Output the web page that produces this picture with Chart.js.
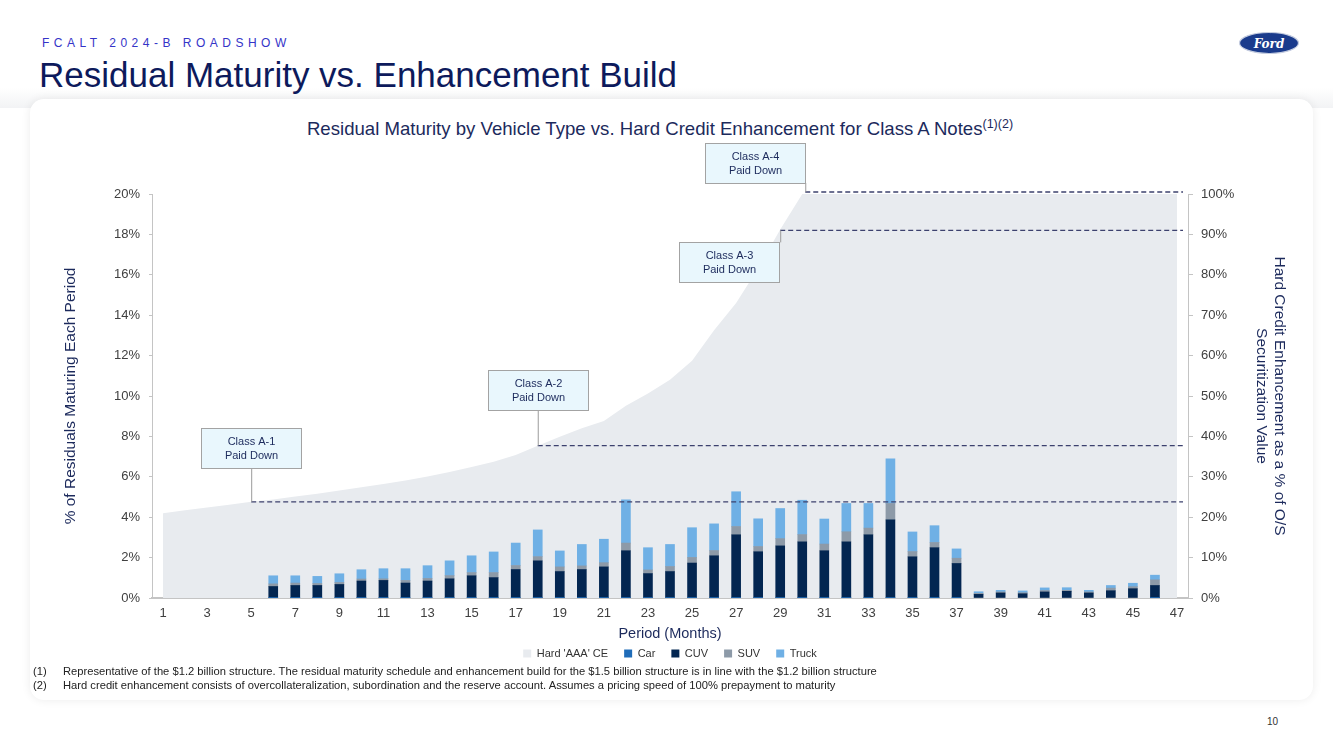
<!DOCTYPE html>
<html>
<head>
<meta charset="utf-8">
<script src="https://cdn.jsdelivr.net/npm/chart.js@4.4.1/dist/chart.umd.min.js"></script>
<style>
  html, body { margin:0; padding:0; width:1333px; height:749px; overflow:hidden; background:#ffffff; font-family:"Liberation Sans", Arial, sans-serif; }
  #band { position:absolute; left:0; top:88px; width:1333px; height:20px; background:linear-gradient(#ffffff, #f2f3f5); }
  #card { position:absolute; left:30px; top:99px; width:1283px; height:601px; background:#fff; border-radius:14px; box-shadow:0 0 10px rgba(0,0,0,0.08); }
  #kicker { position:absolute; left:42px; top:36px; font-size:12px; letter-spacing:4.5px; color:#3434c8; white-space:nowrap; }
  #title { position:absolute; left:39px; top:55px; font-size:35px; color:#0d1a5c; white-space:nowrap; }
  #ctitle { position:absolute; left:0; width:1320px; top:118px; text-align:center; font-size:18.6px; color:#1c2a5c; white-space:nowrap; }
  #ctitle sup { font-size:12.5px; vertical-align:7px; line-height:0; }
  #chartWrap { position:absolute; left:0; top:0; width:1333px; height:680px; }
  #notes { position:absolute; left:33px; top:664px; font-size:11.2px; color:#222; line-height:14px; white-space:nowrap; }
  #notes span.n { display:inline-block; width:30px; }
  #page { position:absolute; left:1267px; top:716px; font-size:10px; color:#333; }
  #logo { position:absolute; left:1238px; top:31px; }
</style>
</head>
<body>
<div id="band"></div>
<div id="card"></div>
<div id="kicker">FCALT 2024-B ROADSHOW</div>
<div id="title">Residual Maturity vs. Enhancement Build</div>
<svg id="logo" width="62" height="24" viewBox="0 0 62 24">
  <ellipse cx="31" cy="12" rx="29.5" ry="10.5" fill="#1a3b8c" stroke="#c5cde0" stroke-width="1.2"/>
  <text x="31" y="16.5" text-anchor="middle" font-family="DejaVu Serif" font-style="italic" font-weight="bold" font-size="12" fill="#ffffff">Ford</text>
</svg>
<div id="ctitle">Residual Maturity by Vehicle Type vs. Hard Credit Enhancement for Class A Notes<sup>(1)(2)</sup></div>
<div id="chartWrap"><canvas id="c" width="1333" height="680"></canvas></div>
<div id="notes">
  <div><span class="n">(1)</span>Representative of the $1.2 billion structure. The residual maturity schedule and enhancement build for the $1.5 billion structure is in line with the $1.2 billion structure</div>
  <div><span class="n">(2)</span>Hard credit enhancement consists of overcollateralization, subordination and the reserve account. Assumes a pricing speed of 100% prepayment to maturity</div>
</div>
<div id="page">10</div>

<script>
// ---------------- DATA ----------------
const periods = ['1','2','3','4','5','6','7','8','9','10','11','12','13','14','15','16','17','18','19','20',
  '21','22','23','24','25','26','27','28','29','30','31','32','33','34','35','36','37','38','39','40',
  '41','42','43','44','45','46','47'];

// Hard 'AAA' CE (% of O/S securitization value, right axis)
const hardCE = [21.0,21.7,22.4,23.1,23.8,24.4,25.1,25.8,26.6,27.4,28.2,29.1,30.1,31.2,32.4,33.7,35.4,37.7,39.9,42.0,
  43.8,47.6,50.6,54.0,58.7,66.3,73.0,81.6,91.2,100,100,100,100,100,100,100,100,100,100,100,
  100,100,100,100,100,100,100];

// Residuals maturing each period (% , left axis)
const car = [null,null,null,null,null,0.01,0.01,0.01,0.01,0.01,0.01,0.01,0.01,0.01,0.01,0.01,0.01,0.01,0.01,0.01,
  0.01,0.01,0.01,0.01,0.01,0.01,0.01,0.01,0.01,0.01,0.01,0.01,0.01,0.01,0.01,0.01,0.01,null,null,null,
  null,null,null,null,null,0.01,null];
const cuv = [null,null,null,null,null,0.56,0.61,0.61,0.66,0.83,0.86,0.73,0.83,0.94,1.09,1.00,1.40,1.83,1.30,1.40,
  1.53,2.33,1.20,1.30,1.72,2.08,3.12,2.28,2.57,2.77,2.33,2.77,3.12,3.86,2.03,2.48,1.70,0.18,0.25,0.21,
  0.30,0.33,0.25,0.36,0.46,0.61,null];
const suv = [null,null,null,null,null,0.13,0.12,0.10,0.10,0.10,0.08,0.13,0.13,0.16,0.16,0.25,0.20,0.21,0.23,0.18,
  0.21,0.38,0.18,0.25,0.28,0.26,0.41,0.26,0.36,0.36,0.33,0.50,0.33,0.81,0.26,0.26,0.26,0.05,0.05,0.05,
  0.07,0.05,0.05,0.13,0.10,0.28,null];
const truck = [null,null,null,null,null,0.40,0.36,0.35,0.43,0.46,0.50,0.58,0.63,0.73,0.83,1.02,1.11,1.32,0.79,1.06,
  1.16,2.14,1.10,1.09,1.47,1.32,1.72,1.37,1.49,1.70,1.24,1.40,1.22,2.21,0.97,0.83,0.46,0.08,0.08,0.09,
  0.13,0.13,0.08,0.13,0.17,0.23,null];

// Class paydown markers (period, hard CE level on right axis)
const paydownLabels  = ['Class A-1', 'Class A-2', 'Class A-3', 'Class A-4'];
const paydownPeriods = ['5', '18', '29', '30'];
const paydownLevels  = [23.8, 37.7, 91.0, 100.5];

// Axis tick labels
const leftTicks  = [0,2,4,6,8,10,12,14,16,18,20];
const rightTicks = [0,10,20,30,40,50,60,70,80,90,100];

// ---------------- DRAW ----------------
const FONT = '"Liberation Sans", Arial, sans-serif';
const NAVY = '#1c2a5c';

// callout box placement relative to anchor point (layout only)
const calloutLayout = [
  { bx: -50, by: -74, cx: 0, cy1: -34, cy2: 0 },
  { bx: -50, by: -76, cx: 0, cy1: -36, cy2: 0 },
  { bx: -101, by: 12, cx: 0, cy1: 12, cy2: 0 },
  { bx: -97, by: -49, cx: 3, cy1: -9, cy2: 0 }
];

const calloutPlugin = {
  id: 'callouts',
  afterDatasetsDraw(chart) {
    const { ctx, chartArea, scales } = chart;
    const x = scales.x, y2 = scales.y2;
    ctx.save();
    paydownPeriods.forEach((p, i) => {
      const ax = x.getPixelForValue(periods.indexOf(p));
      const ay = y2.getPixelForValue(paydownLevels[i]);
      const L = calloutLayout[i];
      ctx.setLineDash([5, 3]);
      ctx.strokeStyle = '#3c416e';
      ctx.lineWidth = 1.3;
      ctx.beginPath();
      ctx.moveTo(ax + L.cx, ay);
      ctx.lineTo(chartArea.right - 5, ay);
      ctx.stroke();
      ctx.setLineDash([]);
      ctx.strokeStyle = '#9b9b9b';
      ctx.lineWidth = 1;
      ctx.beginPath();
      ctx.moveTo(ax + L.cx + 0.5, ay + L.cy1);
      ctx.lineTo(ax + L.cx + 0.5, ay + L.cy2);
      ctx.stroke();
      const bx = Math.round(ax + L.bx) + 0.5, by = Math.round(ay + L.by) + 0.5;
      const bw = 100, bh = 40;
      ctx.fillStyle = '#e9f7fd';
      ctx.fillRect(bx, by, bw, bh);
      ctx.strokeStyle = '#a3a3a3';
      ctx.strokeRect(bx, by, bw, bh);
      ctx.fillStyle = NAVY;
      ctx.font = '11px ' + FONT;
      ctx.textAlign = 'center';
      ctx.textBaseline = 'middle';
      ctx.fillText(paydownLabels[i], bx + bw / 2, by + bh / 2 - 7);
      ctx.fillText('Paid Down', bx + bw / 2, by + bh / 2 + 7);
    });
    ctx.restore();
  }
};

const barBase = { type: 'bar', yAxisID: 'y', xAxisID: 'x', barThickness: 9, borderWidth: 0, order: 1, stack: 'res' };

new Chart(document.getElementById('c'), {
  data: {
    labels: periods,
    datasets: [
      { type: 'line', label: "Hard 'AAA' CE", data: hardCE, yAxisID: 'y2', fill: 'origin',
        backgroundColor: '#e8ebef', borderColor: '#e8ebef', borderWidth: 0, pointRadius: 0, tension: 0, order: 5 },
      Object.assign({}, barBase, { label: 'Car', data: car, backgroundColor: '#1f6cb8' }),
      Object.assign({}, barBase, { label: 'CUV', data: cuv, backgroundColor: '#032651' }),
      Object.assign({}, barBase, { label: 'SUV', data: suv, backgroundColor: '#8d9aa8' }),
      Object.assign({}, barBase, { label: 'Truck', data: truck, backgroundColor: '#6fb0e5' })
    ]
  },
  options: {
    responsive: false,
    animation: false,
    layout: { padding: { top: 194, bottom: 11, left: 0, right: 0 } },
    plugins: {
      legend: {
        position: 'bottom',
        fullSize: false,
        labels: {
          boxWidth: 8, boxHeight: 8, padding: 16, color: '#333',
          font: { family: FONT, size: 11 },
          sort: (a, b) => a.datasetIndex - b.datasetIndex
        }
      },
      tooltip: { enabled: false }
    },
    scales: {
      x: {
        stacked: true,
        offset: true,
        grid: { display: false, drawTicks: false },
        border: { display: true, color: '#c4c4c4', width: 2 },
        ticks: {
          autoSkip: false, maxRotation: 0, padding: 8, color: '#404040',
          font: { family: FONT, size: 13 },
          callback: (v, i) => (i % 2 === 0 ? periods[i] : '')
        },
        title: { display: true, text: 'Period (Months)', color: NAVY, font: { family: FONT, size: 14.5 }, padding: { top: 0, bottom: -10.7 } },
        afterFit: s => { s.height = 34; }
      },
      y: {
        position: 'left',
        stacked: true,
        min: 0, max: 20,
        afterBuildTicks: s => { s.ticks = leftTicks.map(v => ({ value: v })); },
        grid: { display: true, drawOnChartArea: false, drawTicks: true, tickLength: 3, color: '#c4c4c4' },
        border: { display: true, color: '#c4c4c4', width: 1 },
        ticks: { padding: 9, color: '#404040', font: { family: FONT, size: 13 }, callback: v => v + '%' },
        title: { display: true, text: '% of Residuals Maturing Each Period', color: NAVY, font: { family: FONT, size: 15.5 }, padding: { top: 61, bottom: 0 } },
        afterFit: s => { s.width = 152; }
      },
      y2: {
        position: 'right',
        stacked: false,
        min: 0, max: 100,
        afterBuildTicks: s => { s.ticks = rightTicks.map(v => ({ value: v })); },
        grid: { display: true, drawOnChartArea: false, drawTicks: true, tickLength: 5, color: '#c4c4c4' },
        border: { display: true, color: '#c4c4c4', width: 1 },
        ticks: { padding: 8, color: '#404040', font: { family: FONT, size: 13 }, callback: v => v + '%' },
        title: { display: true, text: ['Hard Credit Enhancement as a % of O/S', 'Securitization Value'], color: NAVY, font: { family: FONT, size: 15.5 }, padding: { top: 44, bottom: 0 } },
        afterFit: s => { s.width = 145; }
      }
    }
  },
  plugins: [calloutPlugin]
});
</script>
</body>
</html>
